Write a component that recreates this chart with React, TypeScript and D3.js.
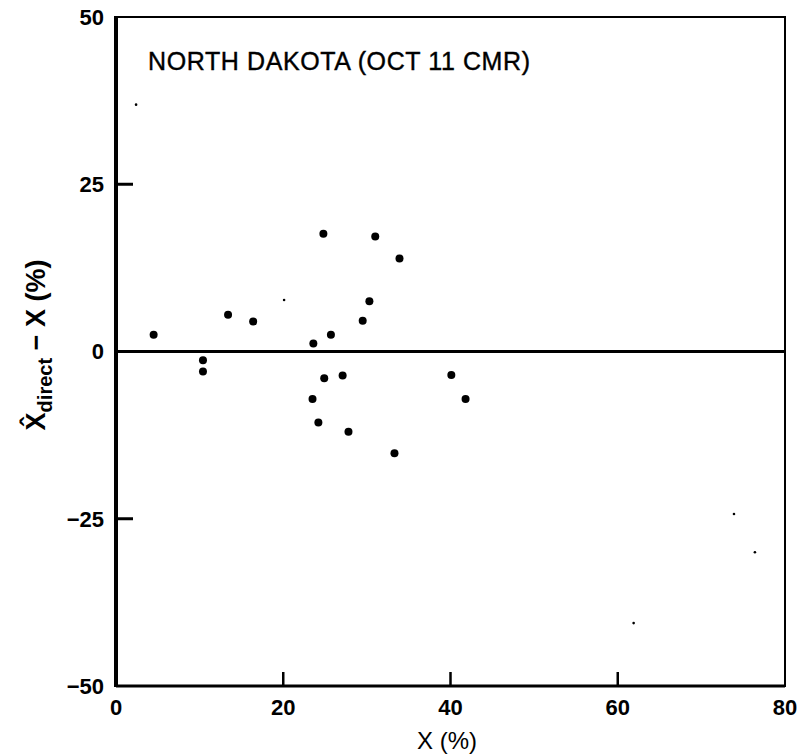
import React from 'react';
import * as d3 from 'd3';

// estimated from the scanned figure
const dotX = [4.5, 10.4, 10.4, 13.4, 16.4, 23.6, 23.5, 24.2, 24.8, 24.9, 25.7, 27.1, 27.8, 29.5, 30.3, 31.0, 33.3, 33.9, 40.1, 41.8];
const dotY = [2.5, -1.3, -3.0, 5.5, 4.5, 1.2, -7.1, -10.6, 17.6, -4.0, 2.5, -3.6, -12.0, 4.6, 7.5, 17.2, -15.2, 13.9, -3.5, -7.1];
// faint small specks
const speckX = [2.4, 20.1, 61.9, 73.9, 76.4];
const speckY = [36.9, 7.7, -40.6, -24.3, -30.0];

const xTicks = [0, 20, 40, 60, 80];
const yTicks = [50, 25, 0, -25, -50];
const title = 'NORTH DAKOTA (OCT 11 CMR)';

const App = () => {
  const width = 801;
  const height = 755;
  const x = d3.scaleLinear().domain([0, 80]).range([116, 785]);
  const y = d3.scaleLinear().domain([-50, 50]).range([686, 17]);
  const font = '"Liberation Sans", Arial, sans-serif';

  return (
    <div>
      <style>{`body { margin: 0; }`}</style>
      <svg width={width} height={height} style={{ display: 'block', background: '#fff' }}>
        {/* frame */}
        <rect x={x(0)} y={y(50)} width={x(80) - x(0)} height={y(-50) - y(50)} fill="none" stroke="#000" strokeWidth={2} />
        <line x1={x(0)} x2={x(0)} y1={y(50) - 1} y2={y(-50) + 1} stroke="#000" strokeWidth={4} />
        <line x1={x(0)} x2={x(80)} y1={y(-50)} y2={y(-50)} stroke="#000" strokeWidth={3} />
        {/* zero line */}
        <line x1={x(0)} x2={x(80)} y1={y(0)} y2={y(0)} stroke="#000" strokeWidth={3} />

        {/* inner ticks */}
        {[25, -25].map(v => (
          <line key={'yt' + v} x1={x(0)} x2={x(0) + 17} y1={y(v)} y2={y(v)} stroke="#000" strokeWidth={3} />
        ))}
        {[20, 40, 60].map(v => (
          <line key={'xt' + v} x1={x(v)} x2={x(v)} y1={y(-50)} y2={y(-50) - 14} stroke="#000" strokeWidth={2.5} />
        ))}

        {/* tick labels */}
        {yTicks.map(v => (
          <text key={'yl' + v} x={x(0) - 12} y={y(v)} dy="0.36em" textAnchor="end"
            fontFamily={font} fontWeight="bold" fontSize={22}>
            {v < 0 ? '\u2212' + Math.abs(v) : v}
          </text>
        ))}
        {xTicks.map(v => (
          <text key={'xl' + v} x={x(v)} y={y(-50) + 29} textAnchor="middle"
            fontFamily={font} fontWeight="bold" fontSize={22}>
            {v}
          </text>
        ))}

        {/* axis titles */}
        <text x={447} y={749} textAnchor="middle" fontFamily={font} fontSize={24}>X (%)</text>
        <g transform="translate(45, 345) rotate(-90)">
          <text textAnchor="middle" fontFamily={font} fontWeight="bold" fontSize={27}>
            <tspan>X&#770;</tspan>
            <tspan fontSize={20} dy={7}>direct</tspan>
            <tspan dy={-7}> {'\u2212'} X (%)</tspan>
          </text>
        </g>

        {/* title */}
        <text x={148} y={70} fontFamily={font} fontSize={25} letterSpacing={0.6}
          stroke="#000" strokeWidth={0.4}>{title}</text>

        {/* points */}
        {dotX.map((d, i) => (
          <circle key={'d' + i} cx={x(d)} cy={y(dotY[i])} r={4} fill="#000" />
        ))}
        {speckX.map((d, i) => (
          <circle key={'s' + i} cx={x(d)} cy={y(speckY[i])} r={1.3} fill="#000" />
        ))}
      </svg>
    </div>
  );
};

export default App;
